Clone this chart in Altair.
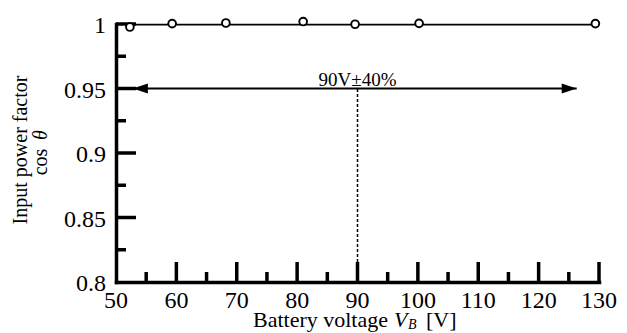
import altair as alt
import pandas as pd

# ---- data ----
volt = [52.3, 59.3, 68.2, 81.0, 89.6, 100.2, 129.4]
pf = [0.9977, 1.0003, 1.0008, 1.0019, 0.9998, 1.0005, 1.0003]
fit_x = [52.3, 129.4]
fit_y = [0.9995, 0.9995]

x_major = [60, 70, 80, 90, 100, 110, 120, 130]
x_minor = [55, 65, 75, 85, 95, 105, 115, 125]
y_major = [0.85, 0.9, 0.95, 1.0]
y_minor = [0.825, 0.875, 0.925, 0.975]
x_labels = [50, 60, 70, 80, 90, 100, 110, 120, 130]
y_labels = [0.8, 0.85, 0.9, 0.95, 1.0]
y_label_text = ["0.8", "0.85", "0.9", "0.95", "1"]

range_start, range_end = 50, 126.3
left_tip, right_tip = 52.8, 126.3
range_y = 0.95
nominal_v = 90
ymin = 0.8
range_label = "90V±40%"

FONT = "Liberation Serif"
W, H = 483, 258
LBL = 24

xs = alt.Scale(domain=[50, 130], nice=False, zero=False)
ys = alt.Scale(domain=[0.8, 1.0], nice=False, zero=False)

xaxis = alt.Axis(values=x_labels, title=None, labels=False)
yaxis = alt.Axis(values=y_labels, title=None, labels=False)

def X(f):
    return alt.X(f, type="quantitative", scale=xs, axis=xaxis)

def Y(f):
    return alt.Y(f, type="quantitative", scale=ys, axis=yaxis)

pts = pd.DataFrame({"v": volt, "pf": pf})
fit = pd.DataFrame({"v": fit_x, "pf": fit_y})

xmaj = alt.Chart(pd.DataFrame({"v": x_major})).mark_rule(color="black", strokeWidth=3.5).encode(
    x=X("v"), y=alt.value(H), y2=alt.value(H - 20))
xmin_ = alt.Chart(pd.DataFrame({"v": x_minor})).mark_rule(color="black", strokeWidth=3.5).encode(
    x=X("v"), y=alt.value(H), y2=alt.value(H - 10))
ymaj = alt.Chart(pd.DataFrame({"pf": y_major})).mark_rule(color="black", strokeWidth=3.5).encode(
    y=Y("pf"), x=alt.value(0), x2=alt.value(20))
ymin2 = alt.Chart(pd.DataFrame({"pf": y_minor})).mark_rule(color="black", strokeWidth=3.5).encode(
    y=Y("pf"), x=alt.value(0), x2=alt.value(10))

xlab = alt.Chart(pd.DataFrame({"v": x_labels})).mark_text(
    font=FONT, fontSize=LBL, color="black", align="center", baseline="alphabetic").encode(
    x=X("v"), y=alt.value(H + 26), text=alt.Text("v:Q", format="d"))
ylab = alt.Chart(pd.DataFrame({"pf": y_labels, "t": y_label_text})).mark_text(
    font=FONT, fontSize=LBL, color="black", align="right", baseline="alphabetic", dy=9).encode(
    y=Y("pf"), x=alt.value(-10), text="t:N")

line = alt.Chart(fit).mark_line(color="black", strokeWidth=1.6).encode(x=X("v"), y=Y("pf"))
points = alt.Chart(pts).mark_point(shape="circle", size=60, filled=True, fill="white",
                                   stroke="black", strokeWidth=1.9, opacity=1).encode(
    x=X("v"), y=Y("pf"))

arrow_df = pd.DataFrame({"x1": [range_start], "x2": [range_end], "y": [range_y]})
arrow = alt.Chart(arrow_df).mark_rule(color="black", strokeWidth=2).encode(
    x=X("x1"), x2="x2", y=Y("y"))
lh = alt.Chart(pd.DataFrame({"v": [left_tip], "pf": [range_y]})).mark_point(
    shape="M0,0 L1,-0.33 L1,0.33 Z", size=900, filled=True, color="black", opacity=1,
    strokeWidth=0).encode(x=X("v"), y=Y("pf"))
rh = alt.Chart(pd.DataFrame({"v": [right_tip], "pf": [range_y]})).mark_point(
    shape="M0,0 L-1,-0.33 L-1,0.33 Z", size=900, filled=True, color="black", opacity=1,
    strokeWidth=0).encode(x=X("v"), y=Y("pf"))

dash_df = pd.DataFrame({"v": [nominal_v], "y1": [ymin], "y2": [range_y]})
dash = alt.Chart(dash_df).mark_rule(color="black", strokeWidth=1.5, strokeDash=[3, 2]).encode(
    x=X("v"), y=Y("y1"), y2="y2")

lbl = alt.Chart(pd.DataFrame({"v": [nominal_v], "pf": [range_y], "t": [range_label]})).mark_text(
    font=FONT, fontSize=19, color="black", align="center", baseline="alphabetic", dy=-3).encode(
    x=X("v"), y=Y("pf"), text="t:N")

def txt(s, x, y, size=22, style="normal", angle=0, align="left"):
    return alt.Chart(pd.DataFrame({"t": [s]})).mark_text(
        font=FONT, fontSize=size, fontStyle=style, color="black", align=align,
        baseline="alphabetic" if angle == 0 else "middle", angle=angle).encode(
        x=alt.value(x), y=alt.value(y), text="t:N")

# x-axis title: "Battery voltage V_B [V]"
xt1 = txt("Battery voltage", 137, 303)
xt2 = txt("V", 278, 303, style="italic")
xt3 = txt("B", 292, 305, size=14, style="italic")
xt4 = txt("[V]", 310, 303)

# y-axis title
yt1 = txt("Input power factor", -95, 126, size=20, angle=270, align="center")
yt2 = txt("cos", -75, 138, size=20, angle=270, align="center")
yt3 = txt("θ", -75, 111, size=20, style="italic", angle=270, align="center")

chart = alt.layer(
    xmaj, xmin_, ymaj, ymin2, xlab, ylab, dash, arrow, lh, rh, line, points, lbl,
    xt1, xt2, xt3, xt4, yt1, yt2, yt3
).properties(
    width=W, height=H,
    autosize=alt.AutoSizeParams(type="none"),
    padding={"left": 116, "top": 24, "right": 28, "bottom": 51},
    background="white",
).configure_axis(
    ticks=False, grid=False,
    domainWidth=3.5, domainColor="black", domainCap="square",
).configure_view(stroke=None)

chart.save("out.html", embed_options={"renderer": "svg", "actions": False})
